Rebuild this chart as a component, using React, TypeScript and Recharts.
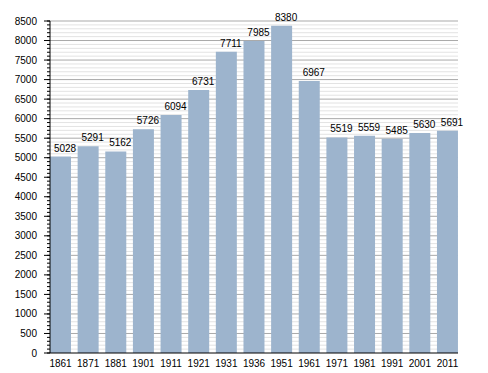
import React from 'react';
import { BarChart, Bar, XAxis, YAxis, LabelList, ReferenceLine } from 'recharts';

const years = ['1861', '1871', '1881', '1901', '1911', '1921', '1931', '1936', '1951', '1961', '1971', '1981', '1991', '2001', '2011'];
const population = [5028, 5291, 5162, 5726, 6094, 6731, 7711, 7985, 8380, 6967, 5519, 5559, 5485, 5630, 5691];
const majorTicks = [0, 500, 1000, 1500, 2000, 2500, 3000, 3500, 4000, 4500, 5000, 5500, 6000, 6500, 7000, 7500, 8000, 8500];
const minorTicks = Array.from({ length: 86 }, (_, i) => i * 100);

const data = years.map((y, i) => ({ year: y, value: population[i] }));

const font = { fontFamily: 'Liberation Sans, Arial, sans-serif', fontSize: 10, fill: '#000' };

const YTick = (props: any) => {
  const { x, y, payload } = props;
  const v = payload.value;
  if (v % 500 !== 0) return null;
  return (
    <g>
      <line x1={x + 7} x2={x + 13} y1={y} y2={y} stroke="#000" />
      <text x={x} y={y} dy="0.355em" textAnchor="end" style={font}>
        {v}
      </text>
    </g>
  );
};

export default function App() {
  return (
    <div style={{ position: 'absolute', left: 0, top: 0 }}>
      <BarChart
        width={488}
        height={373}
        data={data}
        margin={{ top: 21, right: 30, bottom: 0, left: 0 }}
        barCategoryGap={3.3}
      >
        {minorTicks
          .filter((v) => v % 500 !== 0)
          .map((v) => (
            <ReferenceLine key={v} y={v} stroke="#e3e3e3" zIndex={-1} />
          ))}
        {majorTicks
          .filter((v) => v !== 0)
          .map((v) => (
            <ReferenceLine key={'m' + v} y={v} stroke="#a9a9a9" zIndex={-1} />
          ))}
        <XAxis
          dataKey="year"
          height={20}
          tickLine={false}
          axisLine={{ stroke: '#000' }}
          tick={font}
          tickSize={3}
          tickMargin={4}
          interval={0}
          padding={{ left: -3.3, right: -3.3 }}
        />
        <YAxis
          width={50}
          domain={[0, 8500]}
          ticks={minorTicks}
          tick={<YTick />}
          tickSize={3}
          tickMargin={10}
          interval={0}
          axisLine={{ stroke: '#000' }}
          tickLine={{ stroke: '#000' }}
        />
        <Bar dataKey="value" fill="#9db4cd" isAnimationActive={false}>
          <LabelList dataKey="value" position="top" offset={5} dx={4.5} style={font} />
        </Bar>
      </BarChart>
    </div>
  );
}
